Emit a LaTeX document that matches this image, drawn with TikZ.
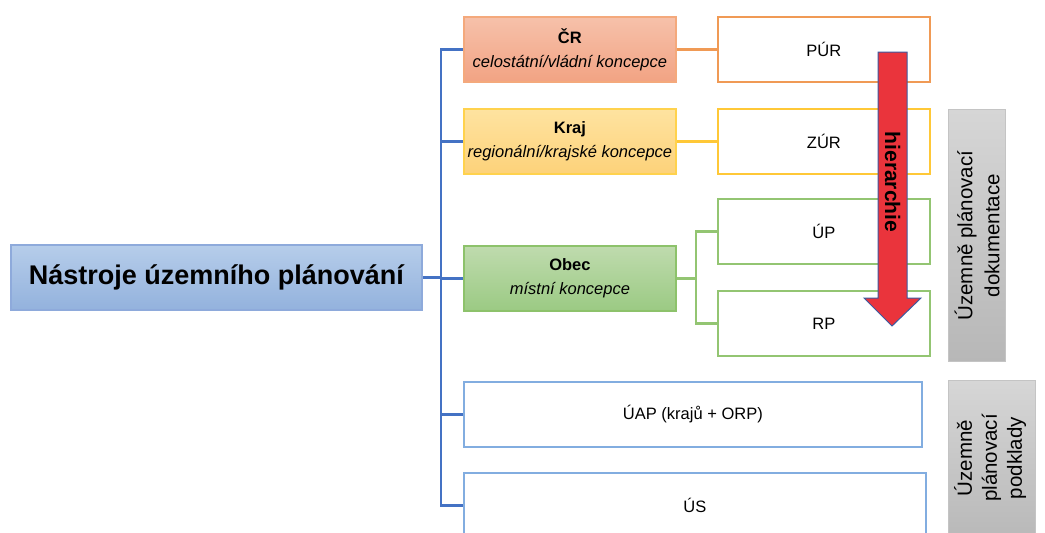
\documentclass[tikz,border=0pt]{standalone}
\usepackage{fontspec}
\setmainfont{Liberation Sans}
\definecolor{trunkc}{HTML}{4472C4}
\definecolor{mainT}{HTML}{B6CDEA}
\definecolor{mainB}{HTML}{93B2DD}
\definecolor{mainD}{HTML}{8EAADB}
\definecolor{crT}{HTML}{F6C1AA}
\definecolor{crB}{HTML}{F2A383}
\definecolor{crD}{HTML}{F4A97C}
\definecolor{orgD}{HTML}{F09A55}
\definecolor{krT}{HTML}{FEE3A0}
\definecolor{krB}{HTML}{FDD27A}
\definecolor{krD}{HTML}{FFD24D}
\definecolor{golD}{HTML}{FFC837}
\definecolor{obT}{HTML}{BFDBAE}
\definecolor{obB}{HTML}{9BCA83}
\definecolor{obD}{HTML}{8DC26B}
\definecolor{grnD}{HTML}{93C572}
\definecolor{bluD}{HTML}{82ADE0}
\definecolor{gryT}{HTML}{D6D6D6}
\definecolor{gryB}{HTML}{B7B7B7}
\definecolor{gryD}{HTML}{C4C4C4}
\definecolor{arrR}{HTML}{EA343C}
\definecolor{arrD}{HTML}{3B5AA0}
\tikzset{
  box/.style={rectangle, anchor=north west, minimum width=212pt, minimum height=65pt, inner sep=0pt, line width=1.8pt, align=center, font=\fontsize{16.5}{24}\selectfont},
  lbox/.style={box, fill=white},
  greybox/.style={rectangle, anchor=north west, inner sep=0pt, line width=1.2pt, draw=gryD, top color=gryT, bottom color=gryB, align=center, font=\fontsize{20.5}{26}\selectfont},
  conn/.style={line width=2.2pt},
}
\begin{document}
\begin{tikzpicture}[x=1pt,y=-1pt]
\useasboundingbox (0,0) rectangle (1045,533);
\clip (0,0) rectangle (1045,533);
% main
\node[box, minimum width=411pt, minimum height=65pt, draw=mainD, top color=mainT, bottom color=mainB, font=\fontsize{27}{30}\selectfont\bfseries] (main) at (10,244) {Nástroje územního plánování};
% level boxes
\node[box, draw=crD, top color=crT, bottom color=crB] (cr) at (463,16) {\textbf{ČR}\\\textit{celostátní/vládní koncepce}};
\node[box, draw=krD, top color=krT, bottom color=krB] (kraj) at (463,108) {\textbf{Kraj}\\\textit{regionální/krajské koncepce}};
\node[box, draw=obD, top color=obT, bottom color=obB] (obec) at (463,245) {\textbf{Obec}\\\textit{místní koncepce}};
% documents
\node[lbox, draw=orgD] (pur) at (717,16) {PÚR};
\node[lbox, draw=golD] (zur) at (717,108) {ZÚR};
\node[lbox, draw=grnD] (up) at (717,198) {ÚP};
\node[lbox, draw=grnD] (rp) at (717,290) {RP};
\node[lbox, draw=bluD, minimum width=458pt] (uap) at (463,381) {ÚAP (krajů + ORP)};
\node[lbox, draw=bluD, minimum width=462pt] (us) at (463,472) {ÚS};
% trunk
\coordinate (t) at (441,0);
\coordinate (g) at (696,0);
\draw[conn, draw=trunkc] (main.east) -- (main.east -| t);
\draw[conn, draw=trunkc] (cr.west) -| (t |- us.west) -- (us.west);
\draw[conn, draw=trunkc] (kraj.west) -- (kraj.west -| t);
\draw[conn, draw=trunkc] (obec.west) -- (obec.west -| t);
\draw[conn, draw=trunkc] (uap.west) -- (uap.west -| t);
% level to document
\draw[conn, draw=orgD] (cr.east) -- (pur.west);
\draw[conn, draw=golD] (kraj.east) -- (zur.west);
\draw[conn, draw=grnD] (obec.east) -- (obec.east -| g);
\draw[conn, draw=grnD] (up.west) -| (g |- rp.west) -- (rp.west);
% hierarchy arrow
\draw[fill=arrR, draw=arrD, line width=1pt, line join=miter]
  (878,52) -- (907,52) -- (907,298) -- (921,298) -- (892,326) -- (864,298) -- (878,298) -- cycle;
\node[rotate=-90, font=\fontsize{21}{24}\selectfont\bfseries, inner sep=0pt] (hier) at (892.5,182) {hierarchie};
% grey labels
\node[greybox, minimum width=57pt, minimum height=252pt] (upd) at (948,109) {};
\node[rotate=90, align=center, font=\fontsize{20.5}{27}\selectfont, inner sep=0pt] (updt) at (upd.center) {Územně plánovací\\dokumentace};
\node[greybox, minimum width=87pt, minimum height=165pt] (upp) at (948,380) {};
\node[rotate=90, align=center, font=\fontsize{20.5}{25}\selectfont, inner sep=0pt] (uppt) at (990,458) {Územně\\plánovací\\podklady};
\end{tikzpicture}
\end{document}
